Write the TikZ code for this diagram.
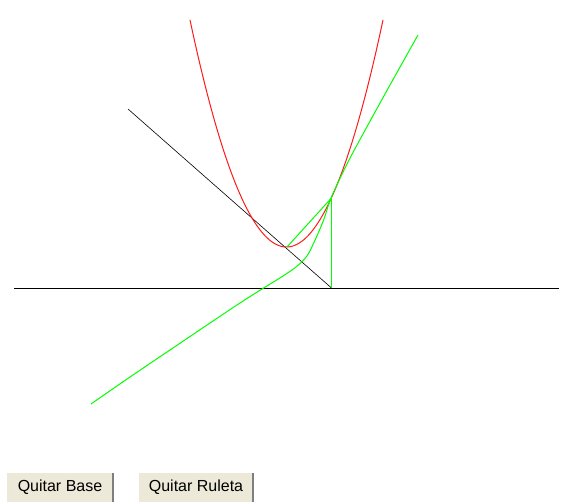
\documentclass[tikz,border=0pt]{standalone}
\usepackage{fontspec}
\setmainfont{Liberation Sans}
\definecolor{verde}{HTML}{00FF00}
\definecolor{rojo}{HTML}{FF1A1A}
\definecolor{btnface}{HTML}{ECE9D8}
\definecolor{btnshadow}{HTML}{7F7F7F}
\begin{document}
\begin{tikzpicture}[x=1pt, y=-1pt,
    base/.style={black, line width=0.9pt},
    normal/.style={black, line width=0.6pt},
    curva/.style={rojo, line width=1pt},
    ruleta/.style={verde, line width=1pt},
    boton/.style={fill=btnface, inner sep=0pt, minimum height=29pt, font=\fontsize{16}{19}\selectfont},
    sombra/.style={btnshadow, line width=1.5pt}
]
\useasboundingbox (0,0) rectangle (564,502);

\coordinate (ejeA) at (14,288);
\coordinate (ejeB) at (559,288);
\coordinate (vert) at (287,247);
\coordinate (punto) at (331.5,198);
\coordinate (piePunto) at (331.5,288);
\coordinate (nA) at (128,109);

% recta base y normal
\draw[base] (ejeA) -- (ejeB);
\draw[normal] (nA) -- (piePunto);

% parabola
\draw[curva] plot[domain=190:383, samples=120] (\x, {247-0.02438*(\x-286.5)^2});

% ruleta
\draw[ruleta] plot[smooth, tension=0.5] coordinates {(91,404) (130,377) (170,350) (210,323) (240,303) (262,289) (283,276) (296,267) (307,256) (316,238) (324,219) (331,198) (347,164) (363,134) (390,85) (418,35)};
\draw[ruleta] (vert) -- (punto);
\draw[ruleta, line width=1.4pt] (punto) -- (piePunto);

% botones
\node[boton, minimum width=106pt] (b1) at (60,487.5) {Quitar Base};
\node[boton, minimum width=114pt] (b2) at (196,487.5) {Quitar Ruleta};
\draw[sombra] (b1.north east) -- (b1.south east);
\draw[sombra] (b2.north east) -- (b2.south east);
\end{tikzpicture}
\end{document}
